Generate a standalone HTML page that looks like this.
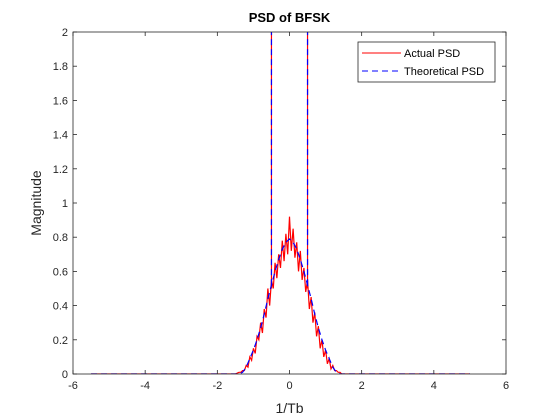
<!DOCTYPE html>
<html><head><meta charset="utf-8"><style>
body{margin:0;background:#fff;}
svg{display:block;font-family:"Liberation Sans",Arial,sans-serif;}
</style></head><body>
<svg id="chart" width="560" height="420">
<rect x="0" y="0" width="560" height="420" fill="#fff"/>
<rect x="73" y="32" width="433" height="342" fill="#fff"/>
<defs><clipPath id="clip"><rect x="73" y="32" width="433" height="342"/></clipPath></defs>
<g id="grid"></g>
<g id="series" clip-path="url(#clip)"></g>
<rect x="73" y="32" width="433" height="342" fill="none" stroke="#262626" stroke-width="0.8"/>
<text x="289.5" y="22" text-anchor="middle" font-size="13" font-weight="bold" fill="#000">PSD of BFSK</text>
<text x="289.5" y="413" text-anchor="middle" font-size="14" fill="#262626">1/Tb</text>
<text transform="translate(41,203) rotate(-90)" text-anchor="middle" font-size="14" fill="#262626">Magnitude</text>
<g>
<rect x="358" y="42" width="137" height="40" fill="#fff" stroke="#262626" stroke-width="0.8"/>
<line x1="362" y1="53" x2="401" y2="53" stroke="#f00" stroke-width="1"/>
<text x="404" y="57" font-size="11" fill="#000">Actual PSD</text>
<line x1="362" y1="71" x2="401" y2="71" stroke="#00f" stroke-width="1" stroke-dasharray="6,4"/>
<text x="404" y="75" font-size="11" fill="#000">Theoretical PSD</text>
</g>
</svg>
<script>
const xTicks=[-6,-4,-2,0,2,4,6];
const yTicks=[0,0.2,0.4,0.6,0.8,1,1.2,1.4,1.6,1.8,2];
const yTickLabels=["0","0.2","0.4","0.6","0.8","1","1.2","1.4","1.6","1.8","2"];
const theoX=[-5.5,-1.5,-1.4,-1.3,-1.2,-1.1,-1.0,-0.9,-0.8,-0.7,-0.6,-0.5,-0.4,-0.3,-0.2,-0.1,0,0.1,0.2,0.3,0.4,0.5,0.6,0.7,0.8,0.9,1.0,1.1,1.2,1.3,1.4,1.5,5];
const theoY=[0,0,0,0.01,0.04,0.09,0.14,0.2,0.27,0.35,0.44,0.52,0.6,0.67,0.73,0.77,0.79,0.77,0.73,0.67,0.6,0.52,0.44,0.35,0.27,0.2,0.14,0.09,0.04,0.01,0,0,0];
const actualY=[0,0.005,0.01,0.01,0.02,0.02,0.05,0.04,0.1,0.08,0.15,0.12,0.22,0.2,0.3,0.24,0.38,0.33,0.5,0.4,0.55,0.5,0.65,0.56,0.7,0.62,0.78,0.66,0.82,0.7,0.92,0.72,0.85,0.68,0.77,0.6,0.72,0.55,0.62,0.48,0.55,0.38,0.45,0.3,0.36,0.22,0.28,0.15,0.2,0.1,0.14,0.06,0.09,0.03,0.05,0.02,0.02,0.01,0.01,0,0];
const actualStart=-1.5, actualStep=0.05;
const spikeX=[-0.5,0.5];
const spikeH=[2.5,2.5];
const NS="http://www.w3.org/2000/svg";
const L=73,R=506,T=32,B=374;
const sx=v=>L+(v+6)/12*(R-L);
const sy=v=>B-v/2*(B-T);
const grid=document.getElementById('grid'), ser=document.getElementById('series'), svg=document.getElementById('chart');
function mk(tag,attrs,parent){const e=document.createElementNS(NS,tag);for(const k in attrs)e.setAttribute(k,attrs[k]);parent.appendChild(e);return e;}
xTicks.forEach(t=>{
 const X=sx(t);
 const a=mk('line',{x1:X,y1:B,x2:X,y2:B-4,stroke:'#262626','stroke-width':0.8},svg);
 
 
 const b=mk('line',{x1:X,y1:T,x2:X,y2:T+4,stroke:'#262626','stroke-width':0.8},svg);
 
 
 const tx=mk('text',{x:X,y:B+15,'text-anchor':'middle','font-size':11,fill:'#262626'},svg);
 tx.textContent=String(t);
 
 
});
yTicks.forEach((t,i)=>{
 const Y=sy(t);
 const a=mk('line',{x1:L,y1:Y,x2:L+4,y2:Y,stroke:'#262626','stroke-width':0.8},svg);
 
 
 const b=mk('line',{x1:R,y1:Y,x2:R-4,y2:Y,stroke:'#262626','stroke-width':0.8},svg);
 
 
 const tx=mk('text',{x:L-5,y:Y+4,'text-anchor':'end','font-size':11,fill:'#262626'},svg);
 tx.textContent=yTickLabels[i];
 
 
});
// actual series
let pts=[[sx(-5.5),sy(0)]];
actualY.forEach((v,i)=>pts.push([sx(actualStart+i*actualStep),sy(v)]));
pts.push([sx(5),sy(0)]);
const pa=mk('polyline',{points:pts.map(p=>p.join(',')).join(' '),fill:'none',stroke:'#f00','stroke-width':1.2},ser);


spikeX.forEach((x,i)=>{
 const s=mk('line',{x1:sx(x),y1:sy(0.5),x2:sx(x),y2:sy(spikeH[i]),stroke:'#f00','stroke-width':1.2},ser);
 
 
});
const tp=mk('polyline',{points:theoX.map((x,i)=>sx(x)+','+sy(theoY[i])).join(' '),fill:'none',stroke:'#00f','stroke-width':1.2,'stroke-dasharray':'6,4'},ser);


spikeX.forEach((x,i)=>{
 const s=mk('line',{x1:sx(x),y1:sy(0.52),x2:sx(x),y2:sy(spikeH[i]),stroke:'#00f','stroke-width':1.2,'stroke-dasharray':'6,4'},ser);
 
 
});
</script>
</body></html>
